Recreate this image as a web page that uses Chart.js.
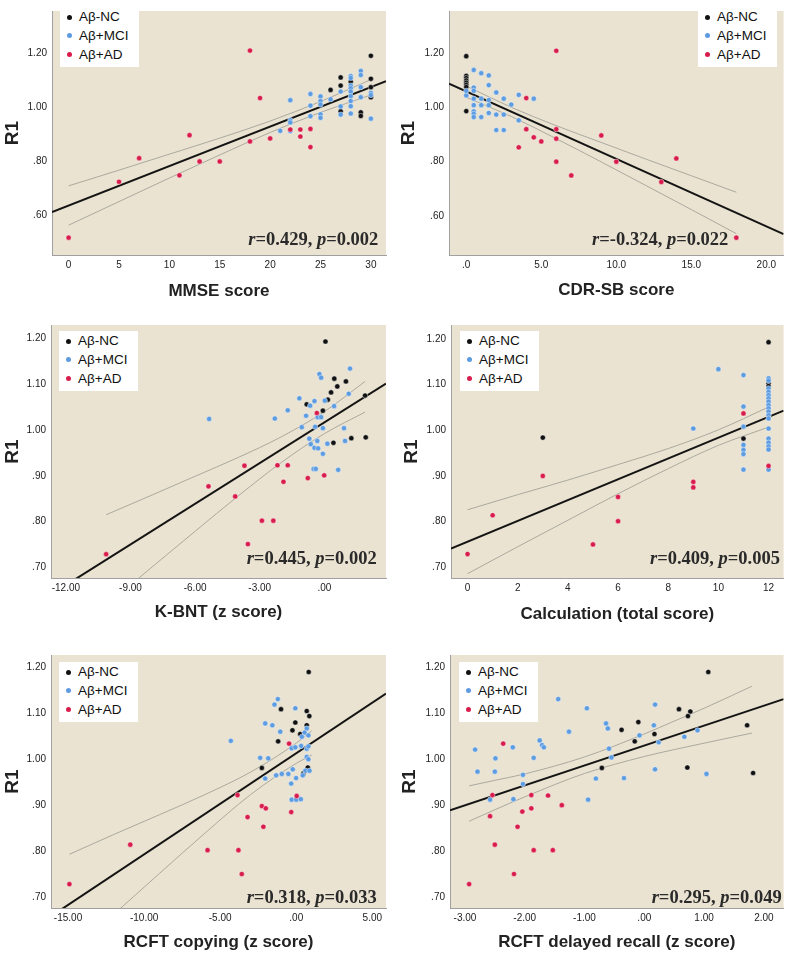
<!DOCTYPE html>
<html><head><meta charset="utf-8">
<script src="https://cdn.jsdelivr.net/npm/chart.js@4.4.0/dist/chart.umd.min.js"></script>
<style>
html,body{margin:0;padding:0;background:#fff;}
body{width:787px;height:953px;position:relative;overflow:hidden;font-family:"Liberation Sans",Arial,sans-serif;}
canvas{position:absolute;}
.lg{position:absolute;background:#fff;font-size:13.5px;color:#111;line-height:1;}
.lg span{position:absolute;white-space:nowrap;}
.dot{position:absolute;width:5px;height:5px;border-radius:50%;}
.ann{position:absolute;font-family:"Liberation Serif","Times New Roman",serif;font-weight:bold;font-size:18.5px;color:#2a2a2a;white-space:nowrap;line-height:1;}
</style></head><body>
<script>
// ---------- shared ----------
const groupNames = ['Aβ-NC', 'Aβ+MCI', 'Aβ+AD'];
const groupColors = ['#111111', '#5D9CE0', '#D81C4C'];
const yTicksWide = [0.6, 0.8, 1.0, 1.2];
const yLabelsWide = ['.60', '.80', '1.00', '1.20'];
const yTicksNarrow = [0.7, 0.8, 0.9, 1.0, 1.1, 1.2];
const yLabelsNarrow = ['.70', '.80', '.90', '1.00', '1.10', '1.20'];

// ---------- Panel 1: MMSE ----------
const mmseNC = [[30,1.19],[27,1.11],[28,1.094],[30,1.105],[27,1.08],[26,1.064],[30,1.074],[30,1.037],[27,0.985],[29,0.981],[29,0.968]];
const mmseMCI = [[21,0.913],[22,1.026],[22,0.953],[22,0.944],[22,0.912],[24,1.049],[24,1.006],[24,0.967],[25,1.040],[25,1.023],[25,1.010],[25,0.974],[25,0.961],[26,1.029],[27,1.058],[27,1.003],[27,0.973],[28,1.115],[28,1.108],[28,1.080],[28,1.070],[28,1.058],[28,1.041],[28,1.023],[28,1.004],[28,0.977],[29,1.134],[29,1.119],[29,1.074],[29,1.037],[30,1.053],[30,1.045],[30,0.958]];
const mmseAD = [[18,1.209],[19,1.034],[22,0.918],[23,0.918],[24,0.92],[23,0.892],[20,0.885],[18,0.874],[24,0.853],[12,0.897],[7,0.812],[13,0.80],[15,0.80],[11,0.749],[5,0.725],[0,0.519]];
const mmseFitX = [-1.65, 31.5];
const mmseFitY = [0.613, 1.096];
const mmseCiX = [0, 5, 10, 15, 20, 25, 30];
const mmseCiUp = [0.710, 0.768, 0.827, 0.886, 0.949, 1.021, 1.102];
const mmseCiLo = [0.565, 0.652, 0.739, 0.824, 0.907, 0.981, 1.045];
const mmseXTicks = [0, 5, 10, 15, 20, 25, 30];
const mmseXLabels = ['0', '5', '10', '15', '20', '25', '30'];

// ---------- Panel 2: CDR-SB ----------
const cdrNC = [[0,1.19],[0,1.117],[0,1.109],[0,1.10],[0,1.092],[0,1.084],[0,1.076],[0,0.987]];
const cdrMCI = [[0.5,1.139],[1,1.127],[1.5,1.119],[1.5,1.083],[0.5,1.074],[0.5,1.062],[0,1.045],[0,1.062],[2,1.056],[2.5,1.033],[0.5,1.033],[1,1.033],[1.5,1.028],[3.5,1.047],[4.5,1.033],[3,1.011],[0.5,1.009],[1,1.009],[1.5,1.009],[0.5,0.986],[0.5,0.977],[1,0.965],[0.5,0.965],[1.5,0.98],[2,0.974],[2.5,0.974],[3.5,0.953],[2,0.917],[2.5,0.917]];
const cdrAD = [[6,1.21],[4,1.035],[4,0.92],[4.5,0.89],[5,0.875],[3.5,0.853],[6,0.92],[6,0.885],[6,0.80],[7,0.749],[9,0.897],[10,0.80],[14,0.812],[13,0.725],[18,0.519]];
const cdrFitX = [-1.15, 21.15];
const cdrFitY = [1.088, 0.532];
const cdrCiX = [0, 3, 6, 9, 12, 15, 18];
const cdrCiUp = [1.080, 1.001, 0.933, 0.871, 0.809, 0.748, 0.687];
const cdrCiLo = [1.038, 0.967, 0.885, 0.799, 0.711, 0.623, 0.534];
const cdrXTicks = [0, 5, 10, 15, 20];
const cdrXLabels = ['.0', '5.0', '10.0', '15.0', '20.0'];

// ---------- Panel 3: K-BNT ----------
const kbntNC = [[0.05,1.193],[0.46,1.112],[1.0,1.106],[0.6,1.095],[0.31,1.082],[1.89,1.075],[0.16,1.066],[-0.82,1.056],[-0.07,1.042],[0.42,0.972],[1.25,0.982],[1.92,0.984]];
const kbntMCI = [[1.19,1.134],[-0.23,1.122],[-0.15,1.114],[1.13,1.079],[0.02,1.064],[-1.16,1.069],[-0.46,1.063],[-0.66,1.053],[0.45,1.052],[-1.7,1.043],[-0.85,1.031],[-0.31,1.028],[-0.15,1.028],[-2.3,1.025],[-5.35,1.024],[-1.05,1.006],[-0.43,1.007],[-0.07,1.004],[0.91,1.004],[-0.7,0.981],[-0.33,0.976],[-0.63,0.969],[0.14,0.970],[0.96,0.976],[-0.46,0.961],[-0.29,0.96],[-0.07,0.948],[-0.5,0.915],[-0.4,0.915],[0.64,0.913]];
const kbntAD = [[-10.13,0.729],[-5.38,0.877],[-4.14,0.855],[-3.71,0.922],[-3.55,0.751],[-2.9,0.802],[-2.37,0.802],[-2.18,0.923],[-1.9,0.887],[-1.7,0.923],[-0.77,0.895],[-0.35,1.037],[-0.01,0.901]];
const kbntFitX = [-12.69, 2.86];
const kbntFitY = [0.641, 1.101];
const kbntCiX = [-10.13, -8, -6, -4, -2, 0, 1.89];
const kbntCiUp = [0.815, 0.858, 0.899, 0.940, 0.985, 1.040, 1.106];
const kbntCiLo = [0.617, 0.701, 0.779, 0.856, 0.929, 0.992, 1.039];
const kbntXTicks = [-12, -9, -6, -3, 0];
const kbntXLabels = ['-12.00', '-9.00', '-6.00', '-3.00', '.00'];

// ---------- Panel 4: Calculation ----------
const calcNC = [[12,1.193],[12,1.103],[12,1.097],[11,0.982],[3,0.984]];
const calcMCI = [[10,1.134],[11,1.121],[12,1.114],[12,1.109],[12,1.092],[12,1.084],[12,1.077],[12,1.07],[12,1.063],[12,1.055],[12,1.048],[12,1.041],[12,1.033],[12,1.026],[12,1.004],[12,0.982],[12,0.973],[12,0.965],[12,0.958],[12,0.914],[11,1.052],[11,1.008],[11,0.968],[11,0.957],[11,0.948],[11,0.914],[9,1.004]];
const calcAD = [[0,0.729],[1,0.814],[3,0.90],[5,0.75],[6,0.854],[6,0.801],[9,0.887],[9,0.875],[11,1.037],[12,0.922]];
const calcFitX = [-0.66, 12.6];
const calcFitY = [0.741, 1.043];
const calcCiX = [0, 2, 4, 6, 8, 10, 12];
const calcCiUp = [0.826, 0.859, 0.891, 0.925, 0.960, 1.001, 1.051];
const calcCiLo = [0.686, 0.745, 0.803, 0.861, 0.916, 0.967, 1.007];
const calcXTicks = [0, 2, 4, 6, 8, 10, 12];
const calcXLabels = ['0', '2', '4', '6', '8', '10', '12'];

// ---------- Panel 5: RCFT copying ----------
const copyNC = [[0.82,1.19],[-1.0,1.109],[0.69,1.105],[0.86,1.094],[-0.06,1.08],[0.69,1.074],[-0.25,1.063],[0.26,1.055],[-1.19,1.039],[-2.26,0.981],[0.76,0.982],[0.47,0.969]];
const copyMCI = [[-1.21,1.131],[-1.43,1.119],[-0.06,1.111],[-2.04,1.078],[-1.57,1.074],[-1.05,1.06],[0.69,1.067],[0.55,1.058],[0.8,1.052],[0.37,1.049],[-0.3,1.024],[-0.06,1.026],[0.32,1.029],[0.69,1.023],[0.8,1.028],[-4.3,1.04],[-2.37,1.003],[-1.84,1.002],[0.69,1.005],[0.8,1.0],[-0.23,0.978],[0.6,0.975],[0.87,0.975],[-0.95,0.968],[-0.52,0.968],[0.43,0.965],[-2.04,0.958],[-0.01,0.959],[-1.32,0.965],[-0.33,0.947],[-0.3,0.912],[0.0,0.912],[0.3,0.913]];
const copyAD = [[-14.91,0.728],[-10.91,0.814],[-5.83,0.802],[-3.8,0.802],[-3.58,0.75],[-3.86,0.922],[-3.2,0.874],[-2.16,0.853],[-2.26,0.898],[-2.0,0.893],[-0.33,0.885],[0.03,0.92],[-0.47,1.034]];
const copyFitX = [-16.12, 5.9];
const copyFitY = [0.658, 1.143];
const copyCiX = [-14.91, -12, -9, -6, -3, 0, 1.02];
const copyCiUp = [0.793, 0.836, 0.879, 0.923, 0.972, 1.035, 1.062];
const copyCiLo = [0.575, 0.662, 0.751, 0.839, 0.923, 0.991, 1.009];
const copyXTicks = [-15, -10, -5, 0, 5];
const copyXLabels = ['-15.00', '-10.00', '-5.00', '.00', '5.00'];

// ---------- Panel 6: RCFT delayed recall ----------
const recNC = [[1.07,1.19],[0.58,1.109],[0.77,1.104],[0.73,1.094],[-0.1,1.081],[1.72,1.074],[-0.38,1.064],[0.17,1.055],[-0.16,1.039],[-0.71,0.981],[0.72,0.982],[1.82,0.97]];
const recMCI = [[-1.44,1.131],[-0.96,1.111],[0.18,1.119],[-0.64,1.078],[-0.61,1.067],[0.16,1.074],[-1.26,1.06],[-0.08,1.052],[0.89,1.063],[0.67,1.049],[0.24,1.037],[-1.75,1.041],[-1.71,1.031],[-1.68,1.026],[-2.83,1.021],[-2.2,1.026],[-0.59,1.023],[-2.49,1.002],[-1.85,1.003],[-0.55,1.004],[0.18,0.978],[-2.79,0.973],[-2.5,0.973],[1.04,0.968],[-2.03,0.966],[-0.81,0.958],[-0.34,0.959],[-2.03,0.946],[-2.58,0.912],[-2.19,0.913],[-0.94,0.912]];
const recAD = [[-2.36,1.034],[-2.54,0.922],[-1.89,0.922],[-1.61,0.921],[-1.38,0.9],[-1.89,0.893],[-2.04,0.886],[-2.58,0.876],[-2.12,0.853],[-2.5,0.814],[-1.85,0.802],[-1.53,0.802],[-2.18,0.75],[-2.93,0.728]];
const recFitX = [-3.25, 2.33];
const recFitY = [0.889, 1.131];
const recCiX = [-2.93, -2.5, -2, -1, 0, 0.5, 1, 1.8];
const recCiUp = [0.942, 0.954, 0.968, 1.005, 1.055, 1.083, 1.111, 1.159];
const recCiLo = [0.865, 0.890, 0.918, 0.969, 1.006, 1.021, 1.035, 1.057];
const recXTicks = [-3, -2, -1, 0, 1, 2];
const recXLabels = ['-3.00', '-2.00', '-1.00', '.00', '1.00', '2.00'];

// ---------- titles & stats ----------
const xTitles = ['MMSE score', 'CDR-SB score', 'K-BNT (z score)', 'Calculation (total score)', 'RCFT copying (z score)', 'RCFT delayed recall (z score)'];
const rValues = ['0.429', '-0.324', '0.445', '0.409', '0.318', '0.295'];
const pValues = ['0.002', '0.022', '0.002', '0.005', '0.033', '0.049'];

// ---------- layout (positions only) ----------
const panels = [
  {left:0,  top:0,   w:393, h:310, yW:52, padR:7, padT:0,  xH:55, xMin:-1.65, xMax:31.5, yMin:0.455, yMax:1.355, yTitlePad:1.3, xTitlePad:8,
   nc:mmseNC, mci:mmseMCI, ad:mmseAD, fitX:mmseFitX, fitY:mmseFitY, ciX:mmseCiX, ciUp:mmseCiUp, ciLo:mmseCiLo, xTicks:mmseXTicks, xLabels:mmseXLabels, yTicks:yTicksWide, yLabels:yLabelsWide,
   lg:{left:60, top:7}, ann:{right:408.7, top:230}},
  {left:393,top:0,   w:394, h:310, yW:56, padR:1, padT:0,  xH:55, xMin:-1.15, xMax:21.15, yMin:0.455, yMax:1.357, yTitlePad:3.9, xTitlePad:9.8,
   nc:cdrNC, mci:cdrMCI, ad:cdrAD, fitX:cdrFitX, fitY:cdrFitY, ciX:cdrCiX, ciUp:cdrCiUp, ciLo:cdrCiLo, xTicks:cdrXTicks, xLabels:cdrXLabels, yTicks:yTicksWide, yLabels:yLabelsWide,
   lg:{left:698, top:7}, ann:{right:58.7, top:230}},
  {left:0,  top:310, w:393, h:320, yW:51, padR:7, padT:15, xH:52, xMin:-12.69, xMax:2.86, yMin:0.677, yMax:1.229, yTitlePad:1.3, xTitlePad:7.8,
   nc:kbntNC, mci:kbntMCI, ad:kbntAD, fitX:kbntFitX, fitY:kbntFitY, ciX:kbntCiX, ciUp:kbntCiUp, ciLo:kbntCiLo, xTicks:kbntXTicks, xLabels:kbntXLabels, yTicks:yTicksNarrow, yLabels:yLabelsNarrow,
   lg:{left:59, top:331}, ann:{right:410.3, top:548.7}},
  {left:393,top:310, w:394, h:320, yW:58, padR:1, padT:15, xH:52, xMin:-0.66, xMax:12.6, yMin:0.6765, yMax:1.2307, yTitlePad:7.3, xTitlePad:5.8,
   nc:calcNC, mci:calcMCI, ad:calcAD, fitX:calcFitX, fitY:calcFitY, ciX:calcCiX, ciUp:calcCiUp, ciLo:calcCiLo, xTicks:calcXTicks, xLabels:calcXLabels, yTicks:yTicksNarrow, yLabels:yLabelsNarrow,
   lg:{left:460, top:331}, ann:{right:7, top:548.7}},
  {left:0,  top:630, w:393, h:323, yW:51, padR:7, padT:25, xH:45, xMin:-16.12, xMax:5.9, yMin:0.676, yMax:1.227, yTitlePad:1.3, xTitlePad:0.3,
   nc:copyNC, mci:copyMCI, ad:copyAD, fitX:copyFitX, fitY:copyFitY, ciX:copyCiX, ciUp:copyCiUp, ciLo:copyCiLo, xTicks:copyXTicks, xLabels:copyXLabels, yTicks:yTicksNarrow, yLabels:yLabelsNarrow,
   lg:{left:59, top:662}, ann:{right:410.3, top:887.5}},
  {left:393,top:630, w:394, h:323, yW:57, padR:1, padT:25, xH:45, xMin:-3.25, xMax:2.33, yMin:0.676, yMax:1.227, yTitlePad:5.6, xTitlePad:0,
   nc:recNC, mci:recMCI, ad:recAD, fitX:recFitX, fitY:recFitY, ciX:recCiX, ciUp:recCiUp, ciLo:recCiLo, xTicks:recXTicks, xLabels:recXLabels, yTicks:yTicksNarrow, yLabels:yLabelsNarrow,
   lg:{left:459, top:662}, ann:{right:5.3, top:887.5}}
];

const bgPlugin = {
  id: 'bg',
  beforeDraw(chart) {
    const {ctx, chartArea: a} = chart;
    ctx.save();
    ctx.fillStyle = '#EBE3D1';
    ctx.fillRect(a.left, a.top, a.right - a.left, a.bottom - a.top);
    ctx.restore();
  }
};

const toPts = arr => arr.map(([x, y]) => ({x, y}));
const toLine = (xs, ys) => xs.map((x, i) => ({x, y: ys[i]}));

function pointDs(data, color) {
  return {data: toPts(data), backgroundColor: color, borderColor: 'rgba(255,255,255,0.55)', borderWidth: 0.8, pointRadius: 2.6, pointHoverRadius: 2.6};
}

panels.forEach((p, k) => {
  const cv = document.createElement('canvas');
  cv.width = p.w; cv.height = p.h;
  cv.style.left = p.left + 'px'; cv.style.top = p.top + 'px';
  cv.style.width = p.w + 'px'; cv.style.height = p.h + 'px';
  document.body.appendChild(cv);

  new Chart(cv.getContext('2d'), {
    type: 'scatter',
    data: {datasets: [
      pointDs(p.ad, groupColors[2]),
      pointDs(p.mci, groupColors[1]),
      pointDs(p.nc, groupColors[0]),
      {data: toLine(p.fitX, p.fitY), showLine: true, borderColor: '#141414', borderWidth: 2, pointRadius: 0, fill: false},
      {data: toLine(p.ciX, p.ciUp), showLine: true, borderColor: '#aaa9a0', borderWidth: 1, pointRadius: 0, tension: 0.4, cubicInterpolationMode: 'monotone', fill: false},
      {data: toLine(p.ciX, p.ciLo), showLine: true, borderColor: '#aaa9a0', borderWidth: 1, pointRadius: 0, tension: 0.4, cubicInterpolationMode: 'monotone', fill: false}
    ]},
    options: {
      responsive: false, animation: false, devicePixelRatio: 1, events: [],
      layout: {padding: {left: 0, right: p.padR, top: p.padT, bottom: 0}},
      plugins: {legend: {display: false}, tooltip: {enabled: false}},
      scales: {
        x: {
          type: 'linear', min: p.xMin, max: p.xMax,
          grid: {display: false, drawTicks: false},
          border: {display: true, color: '#a0a0a0', width: 1},
          afterBuildTicks: s => { s.ticks = p.xTicks.map(v => ({value: v})); },
          afterFit: s => { s.height = p.xH; },
          ticks: {callback: (v, i) => p.xLabels[i], autoSkip: false, maxRotation: 0, padding: 4, color: '#222',
                  font: {size: 10, family: '"Liberation Sans", Arial, sans-serif'}},
          title: {display: true, text: xTitles[k], color: '#222', padding: {top: 0, bottom: p.xTitlePad},
                  font: {size: 17, weight: 'bold', family: '"Liberation Sans", Arial, sans-serif'}}
        },
        y: {
          type: 'linear', min: p.yMin, max: p.yMax,
          grid: {display: false, drawTicks: false},
          border: {display: true, color: '#a0a0a0', width: 1},
          afterBuildTicks: s => { s.ticks = p.yTicks.map(v => ({value: v})); },
          afterFit: s => { s.width = p.yW; },
          ticks: {callback: (v, i) => p.yLabels[i], autoSkip: false, padding: 5, color: '#222',
                  font: {size: 10, family: '"Liberation Sans", Arial, sans-serif'}},
          title: {display: true, text: 'R1', color: '#222', padding: {top: p.yTitlePad, bottom: 0},
                  font: {size: 19, weight: 'bold', family: '"Liberation Sans", Arial, sans-serif'}}
        }
      }
    },
    plugins: [bgPlugin]
  });

  // legend box
  const lg = document.createElement('div');
  lg.className = 'lg';
  lg.style.left = p.lg.left + 'px'; lg.style.top = p.lg.top + 'px';
  lg.style.width = '79px'; lg.style.height = '60px';
  const rows = [10, 28.7, 47.3];
  groupNames.forEach((name, g) => {
    const d = document.createElement('div');
    d.className = 'dot';
    d.style.background = groupColors[g];
    d.style.left = (9.5 - 2.5) + 'px'; d.style.top = (rows[g] - 2.5) + 'px';
    lg.appendChild(d);
    const s = document.createElement('span');
    s.textContent = name;
    s.style.left = '19px'; s.style.top = (rows[g] - 6.6) + 'px';
    lg.appendChild(s);
  });
  document.body.appendChild(lg);

  // stats annotation
  const an = document.createElement('div');
  an.className = 'ann';
  an.style.right = p.ann.right + 'px'; an.style.top = p.ann.top + 'px';
  an.innerHTML = '<i>r</i>=' + rValues[k] + ', <i>p</i>=' + pValues[k];
  document.body.appendChild(an);
});
</script>
</body></html>
